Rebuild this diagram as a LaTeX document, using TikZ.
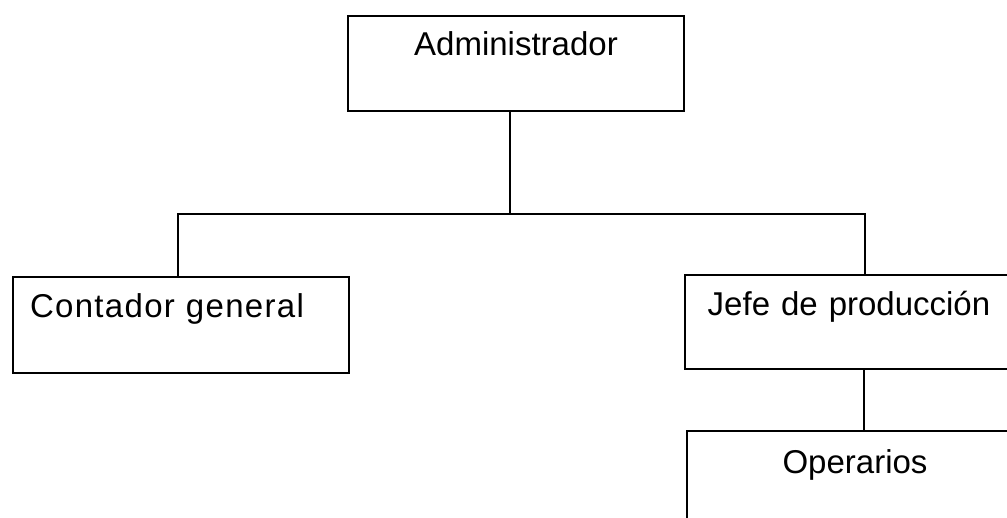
\documentclass[tikz,border=0pt]{standalone}
\usepackage{fontspec}
\setmainfont{Liberation Sans}
\begin{document}
\begin{tikzpicture}[x=1pt,y=1pt,
  box/.style={draw=black, line width=2pt, inner sep=0pt, anchor=north west,
    font=\fontsize{33}{36}\selectfont, text width=#1, align=center},
  conn/.style={draw=black, line width=2pt}]
\useasboundingbox (0,0) rectangle (1007,-518);
\clip (0,0) rectangle (1007,-518);
\node[box=336pt, text height=40pt, text depth=55pt] (admin) at (347,-15) {Administrador};
\node[box=336pt, text height=41pt, text depth=55pt] (cont) at (12,-276) {\hspace*{-28pt}{\addfontfeature{LetterSpace=4}Contador general}};
\node[box=336pt, text height=41pt, text depth=53pt] (jefe) at (684,-274) {\hspace*{-8pt}Jefe de producción};
\node[box=336pt, text height=42pt, text depth=60pt] (ops) at (686,-430) {Operarios};
\coordinate (j1) at (510,-214);
\coordinate (c1) at (178,-214);
\coordinate (j2) at (865,-214);
\coordinate (o1) at (864,0);
\draw[conn] (admin.south -| j1) -- (j1);
\draw[conn] (cont.north -| c1) -- (c1) -- (j2) -- (jefe.north -| j2);
\draw[conn] (jefe.south -| o1) -- (ops.north -| o1);
\end{tikzpicture}
\end{document}
